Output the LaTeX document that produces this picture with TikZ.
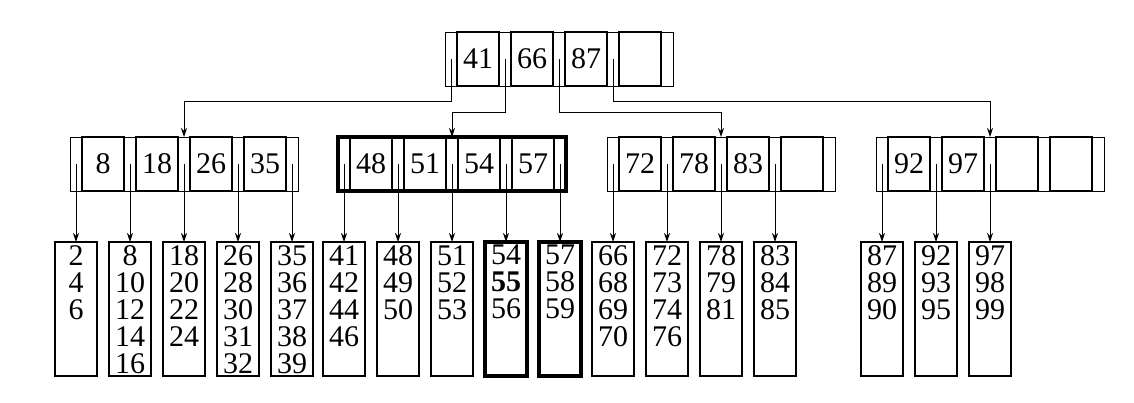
\documentclass[tikz,border=0pt]{standalone}
\usepackage{fontspec}
\setmainfont{Liberation Serif}
\usetikzlibrary{arrows.meta,calc}
\begin{document}
\begin{tikzpicture}[x=1pt,y=-1pt,
  box/.style={draw,line width=1pt,minimum width=228pt,minimum height=54pt,inner sep=0pt,outer sep=0pt},
  thickbox/.style={box,line width=4pt},
  keycell/.style={draw,line width=1.3pt,minimum width=42pt,minimum height=54pt,inner sep=0pt,outer sep=0pt,font=\fontsize{30}{27}\selectfont},
  leaf/.style={draw,line width=1.2pt,minimum width=42pt,minimum height=134pt,inner sep=0pt,outer sep=0pt},
  thickleaf/.style={leaf,line width=4pt},
  leaftext/.style={anchor=north,align=center,inner sep=0pt,font=\fontsize{30}{27}\selectfont},
  conn/.style={line width=0.9pt,-{Stealth[length=9pt,width=6pt]}}]
\useasboundingbox (0,0) rectangle (1134,402);
% helper levels
\coordinate (hA) at (0,101);
\coordinate (hB) at (0,112);
% root
\node[box] (root) at (559,59) {};
\foreach \k/\t in {0/41,1/66,2/87,3/{}} \node[keycell] (rk\k) at (478+54*\k,59) {\t};
\foreach \k in {0,...,3} \coordinate (rp\k) at (451+54*\k,59);
% level 2
\node[box] (n1) at (184,164) {};
\node[thickbox] (n2) at (452,164) {};
\node[box] (n3) at (721,164) {};
\node[box] (n4) at (990,164) {};
\foreach \n/\L/\a/\b/\c/\d in {1/70/8/18/26/35,2/338/48/51/54/57,3/607/72/78/83/{},4/876/92/97/{}/{}}{
  \node[keycell] (k\n-0) at (\L+33,164) {\a};
  \node[keycell] (k\n-1) at (\L+87,164) {\b};
  \node[keycell] (k\n-2) at (\L+141,164) {\c};
  \node[keycell] (k\n-3) at (\L+195,164) {\d};
  \foreach \k in {0,...,4} \coordinate (p\n-\k) at (\L+6+54*\k,164);
}
% root connectors
\draw[conn] (rp0) -- (rp0 |- hA) -| (n1.north);
\draw[conn] (rp1) -- (rp1 |- hB) -| (n2.north);
\draw[conn] (rp2) -- (rp2 |- hB) -| (n3.north);
\draw[conn] (rp3) -- (rp3 |- hA) -| (n4.north);
% leaves
\node[leaf] (l1) at (76,309) {};
\node[leaf] (l2) at (130,309) {};
\node[leaf] (l3) at (184,309) {};
\node[leaf] (l4) at (238,309) {};
\node[leaf] (l5) at (292,309) {};
\node[leaf] (l6) at (344,309) {};
\node[leaf] (l7) at (398,309) {};
\node[leaf] (l8) at (452,309) {};
\node[thickleaf] (l9) at (506,309) {};
\node[thickleaf] (l10) at (560,309) {};
\node[leaf] (l11) at (613,309) {};
\node[leaf] (l12) at (667,309) {};
\node[leaf] (l13) at (721,309) {};
\node[leaf] (l14) at (775,309) {};
\node[leaf] (l15) at (882,309) {};
\node[leaf] (l16) at (936,309) {};
\node[leaf] (l17) at (990,309) {};
\node[leaftext] (t1) at ($(l1.north)+(0,3)$) {2\\4\\6};
\node[leaftext] (t2) at ($(l2.north)+(0,3)$) {8\\10\\12\\14\\16};
\node[leaftext] (t3) at ($(l3.north)+(0,3)$) {18\\20\\22\\24};
\node[leaftext] (t4) at ($(l4.north)+(0,3)$) {26\\28\\30\\31\\32};
\node[leaftext] (t5) at ($(l5.north)+(0,3)$) {35\\36\\37\\38\\39};
\node[leaftext] (t6) at ($(l6.north)+(0,3)$) {41\\42\\44\\46};
\node[leaftext] (t7) at ($(l7.north)+(0,3)$) {48\\49\\50};
\node[leaftext] (t8) at ($(l8.north)+(0,3)$) {51\\52\\53};
\node[leaftext] (t9) at ($(l9.north)+(0,3)$) {54\\\textbf{55}\\56};
\node[leaftext] (t10) at ($(l10.north)+(0,3)$) {57\\58\\59};
\node[leaftext] (t11) at ($(l11.north)+(0,3)$) {66\\68\\69\\70};
\node[leaftext] (t12) at ($(l12.north)+(0,3)$) {72\\73\\74\\76};
\node[leaftext] (t13) at ($(l13.north)+(0,3)$) {78\\79\\81};
\node[leaftext] (t14) at ($(l14.north)+(0,3)$) {83\\84\\85};
\node[leaftext] (t15) at ($(l15.north)+(0,3)$) {87\\89\\90};
\node[leaftext] (t16) at ($(l16.north)+(0,3)$) {92\\93\\95};
\node[leaftext] (t17) at ($(l17.north)+(0,3)$) {97\\98\\99};
% leaf connectors
\foreach \n/\k/\i in {1/0/1,1/1/2,1/2/3,1/3/4,1/4/5,2/0/6,2/1/7,2/2/8,2/3/9,2/4/10,3/0/11,3/1/12,3/2/13,3/3/14,4/0/15,4/1/16,4/2/17}
  \draw[conn] (p\n-\k) -- (l\i.north);
\end{tikzpicture}
\end{document}
